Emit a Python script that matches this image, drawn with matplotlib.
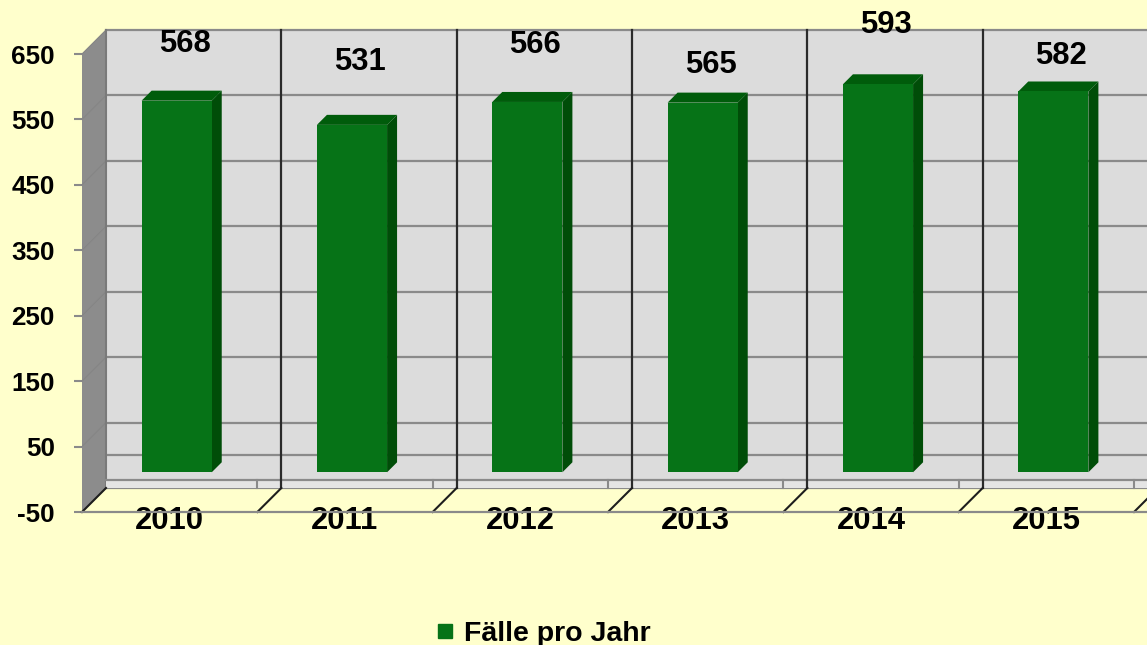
import matplotlib
matplotlib.use("Agg")
import matplotlib.pyplot as plt
from matplotlib.patches import Polygon
from matplotlib.lines import Line2D

plt.rcParams['font.family'] = ['Liberation Sans', 'DejaVu Sans']
plt.rcParams['font.weight'] = 'bold'

# data
jahre = ['2010', '2011', '2012', '2013', '2014', '2015']
faelle = [568, 531, 566, 565, 593, 582]
y_ticks = [-50, 50, 150, 250, 350, 450, 550, 650]
grid_vals = [-50, 0, 50, 150, 250, 350, 450, 550, 650]
serie = 'Fälle pro Jahr'

# label lift above bar top (pixels), Excel put them a bit unevenly
label_lift = [49, 55, 49, 30, 51, 27]

bg = '#FFFFCC'
wand = '#DCDCDC'
seite = '#8C8C8C'
gitter = '#8A8A8A'
gruen = '#067317'
gruen_top = '#005C0B'
gruen_side = '#004D08'

fig = plt.figure(figsize=(11.47, 6.45), dpi=100, facecolor=bg)
ax = fig.add_axes([82/1147, 133/645, 1052/1147, 458/645])
ax.set_xlim(0, 6)
ax.set_ylim(-50, 650)
ax.set_facecolor('none')
for s in ax.spines.values():
    s.set_visible(False)

# pixel -> data units, for the fake 3d depth
pos = ax.get_position()
ux = 6 / (pos.width * fig.get_figwidth() * fig.dpi)
uy = 700 / (pos.height * fig.get_figheight() * fig.dpi)

def off(x, y, d):
    return (x + d * ux, y + d * uy)

tiefe = 24  # wall depth in px
n = len(jahre)

# back wall
ax.add_patch(Polygon([off(0, -50, tiefe), off(6.3, -50, tiefe), off(6.3, 650, tiefe), off(0, 650, tiefe)],
                     facecolor=wand, edgecolor='none', clip_on=False, zorder=1))
# side wall
ax.add_patch(Polygon([(0, -50), (0, 650), off(0, 650, tiefe), off(0, -50, tiefe)],
                     facecolor=seite, edgecolor='none', clip_on=False, zorder=1))
for v in grid_vals:
    a = off(0, v, tiefe)
    b = off(6.3, v, tiefe)
    ax.plot([a[0], b[0]], [a[1], b[1]], color=gitter, lw=1.6, clip_on=False, zorder=2)
for v in y_ticks:
    a = off(0, v, tiefe)
    ax.plot([0, a[0]], [v, a[1]], color='#858585', lw=0.8, clip_on=False, zorder=2)
a = off(0, -50, tiefe)
b = off(0, 650, tiefe)
ax.plot([a[0], b[0]], [a[1], b[1]], color='#7A7A7A', lw=1.5, clip_on=False, zorder=2)

# floor strip at the back
s0 = off(0, -50, tiefe)
s1 = off(0, -50, tiefe + 8)
ax.add_patch(Polygon([(s0[0], s0[1]), (6.3, s0[1]), (6.3, s1[1]), (s0[0], s1[1])],
                     facecolor='#E4E4E4', edgecolor='none', clip_on=False, zorder=2))
ax.plot([s0[0], 6.3], [s1[1], s1[1]], color=gitter, lw=1.6, clip_on=False, zorder=3)
for i in range(1, n + 1):
    ax.plot([i, i], [s0[1], s1[1]], color=gitter, lw=1.5, clip_on=False, zorder=3)

# category dividers on back wall and floor
for i in range(0, n + 1):
    a = off(i, -50, tiefe)
    b = off(i, 650, tiefe)
    if i > 0:
        ax.plot([a[0], b[0]], [a[1], b[1]], color='#2A2A2A', lw=1.6, clip_on=False, zorder=3)
    ax.plot([i, a[0]], [-50, a[1]], color='#1E1E1E', lw=1.5, clip_on=False, zorder=3)

# front floor line
ax.plot([0, 6.3], [-50, -50], color=gitter, lw=1.6, clip_on=False, zorder=3)

# bars
w = 0.4
for i, v in enumerate(faelle):
    x0 = i + 0.5 - w / 2
    x1 = x0 + w
    ax.add_patch(Polygon([off(x1, 0, 7), off(x1, 0, 17), off(x1, v, 17), off(x1, v, 7)],
                         facecolor=gruen_side, edgecolor='none', zorder=4))
    ax.add_patch(Polygon([off(x0, v, 7), off(x1, v, 7), off(x1, v, 17), off(x0, v, 17)],
                         facecolor=gruen_top, edgecolor='none', zorder=4))
    ax.add_patch(Polygon([off(x0, 0, 7), off(x1, 0, 7), off(x1, v, 7), off(x0, v, 7)],
                         facecolor=gruen, edgecolor='none', zorder=5))
    ax.annotate(str(v), xy=(i + 0.5, v), xytext=(15, 7 + label_lift[i]),
                textcoords='offset pixels', ha='center', va='baseline',
                fontsize=22.3, fontweight='bold', color='black', zorder=6,
                annotation_clip=False)

# axes ticks
ax.set_yticks(y_ticks)
ax.set_yticklabels([str(t) for t in y_ticks])
ax.tick_params(axis='y', length=5.8, width=1.5, color=gitter, pad=13.7, labelsize=18.7)
ax.set_xticks([i + 0.5 for i in range(n)])
ax.set_xticklabels(jahre)
ax.tick_params(axis='x', length=0, pad=-4.3, labelsize=22.3)
for lab in ax.get_xticklabels() + ax.get_yticklabels():
    lab.set_fontweight('bold')
    lab.set_zorder(7)

# legend
h = Line2D([], [], marker='s', linestyle='none', markersize=10, color=gruen)
fig.legend([h], [serie], loc='center', bbox_to_anchor=(542 / 1147, 1 - 634 / 645),
           frameon=False, handletextpad=0.25, handlelength=0.8,
           prop={'weight': 'bold', 'size': 20.5})

fig.savefig('out.png', dpi=100, facecolor=bg)
